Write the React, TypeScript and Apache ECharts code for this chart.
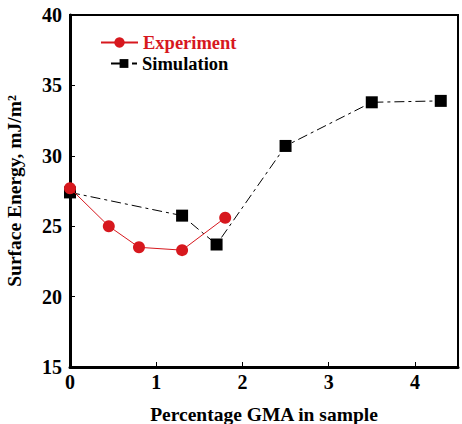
import React, { useEffect, useRef } from "react";
import * as echarts from "echarts";

const expX = [0, 0.45, 0.8, 1.3, 1.8];
const expY = [27.7, 25.0, 23.5, 23.3, 25.6];
const simX = [0, 1.3, 1.7, 2.5, 3.5, 4.3];
const simY = [27.4, 25.75, 23.7, 30.7, 33.8, 33.9];
const xTicks = [0, 1, 2, 3, 4];
const yTicks = [15, 20, 25, 30, 35, 40];

const RED = "#d7181e";
const FONT = "Liberation Serif";

export default function App() {
  const ref = useRef<HTMLDivElement>(null);
  useEffect(() => {
    if (!ref.current) return;
    const chart = echarts.init(ref.current, undefined, { renderer: "svg" });
    const legendText = { fontFamily: FONT, fontWeight: "bold", fontSize: 18.5 };
    chart.setOption({
      animation: false,
      grid: {
        left: 70,
        top: 15,
        right: 4,
        bottom: 57,
        containLabel: false,
        outerBoundsMode: "none",
        show: true,
        borderColor: "#000",
        borderWidth: 2,
      },
      legend: [
        {
          left: 100,
          top: 33,
          padding: 0,
          itemWidth: 37,
          itemHeight: 13,
          textStyle: { ...legendText, color: RED },
          data: ["Experiment"],
        },
        {
          left: 110,
          top: 54,
          padding: 0,
          itemWidth: 26,
          itemHeight: 11,
          textStyle: { ...legendText, color: "#000" },
          data: ["Simulation"],
        },
      ],
      xAxis: {
        type: "value",
        min: 0,
        max: 4.5,
        interval: 1,
        name: "Percentage GMA in sample",
        nameLocation: "middle",
        nameGap: 37,
        nameTextStyle: { fontFamily: FONT, fontWeight: "bold", fontSize: 19.5, color: "#000" },
        axisLine: { lineStyle: { color: "#000", width: 3 } },
        axisTick: { inside: true, length: 5, lineStyle: { color: "#000", width: 1 } },
        axisLabel: {
          margin: 5,
          fontFamily: FONT,
          fontWeight: "bold",
          fontSize: 20,
          color: "#000",
          formatter: (v: number) => (xTicks.includes(v) ? String(v) : ""),
          showMaxLabel: false,
        },
        splitLine: { show: false },
      },
      yAxis: {
        type: "value",
        min: yTicks[0],
        max: yTicks[yTicks.length - 1],
        interval: 5,
        name: "Surface Energy, mJ/m²",
        nameLocation: "middle",
        nameGap: 46,
        nameTextStyle: { fontFamily: FONT, fontWeight: "bold", fontSize: 19.5, color: "#000" },
        axisLine: { show: true, lineStyle: { color: "#000", width: 3 } },
        axisTick: { show: true, inside: true, length: 5, lineStyle: { color: "#000", width: 1 } },
        axisLabel: {
          margin: 8,
          fontFamily: FONT,
          fontWeight: "bold",
          fontSize: 20,
          color: "#000",
        },
        splitLine: { show: false },
      },
      series: [
        {
          name: "Simulation",
          type: "line",
          data: simX.map((x, i) => [x, simY[i]]),
          symbol: "rect",
          symbolSize: 12,
          itemStyle: { color: "#000" },
          lineStyle: { color: "#000", width: 1, type: [10, 4, 3, 4] },
          z: 2,
        },
        {
          name: "Experiment",
          type: "line",
          data: expX.map((x, i) => [x, expY[i]]),
          symbol: "circle",
          symbolSize: 12,
          itemStyle: { color: RED },
          lineStyle: { color: RED, width: 1 },
          z: 3,
        },
      ],
    });
    return () => chart.dispose();
  }, []);
  return (
    <div
      ref={ref}
      style={{ position: "fixed", left: 0, top: 0, width: 462, height: 424, background: "#fff" }}
    />
  );
}
